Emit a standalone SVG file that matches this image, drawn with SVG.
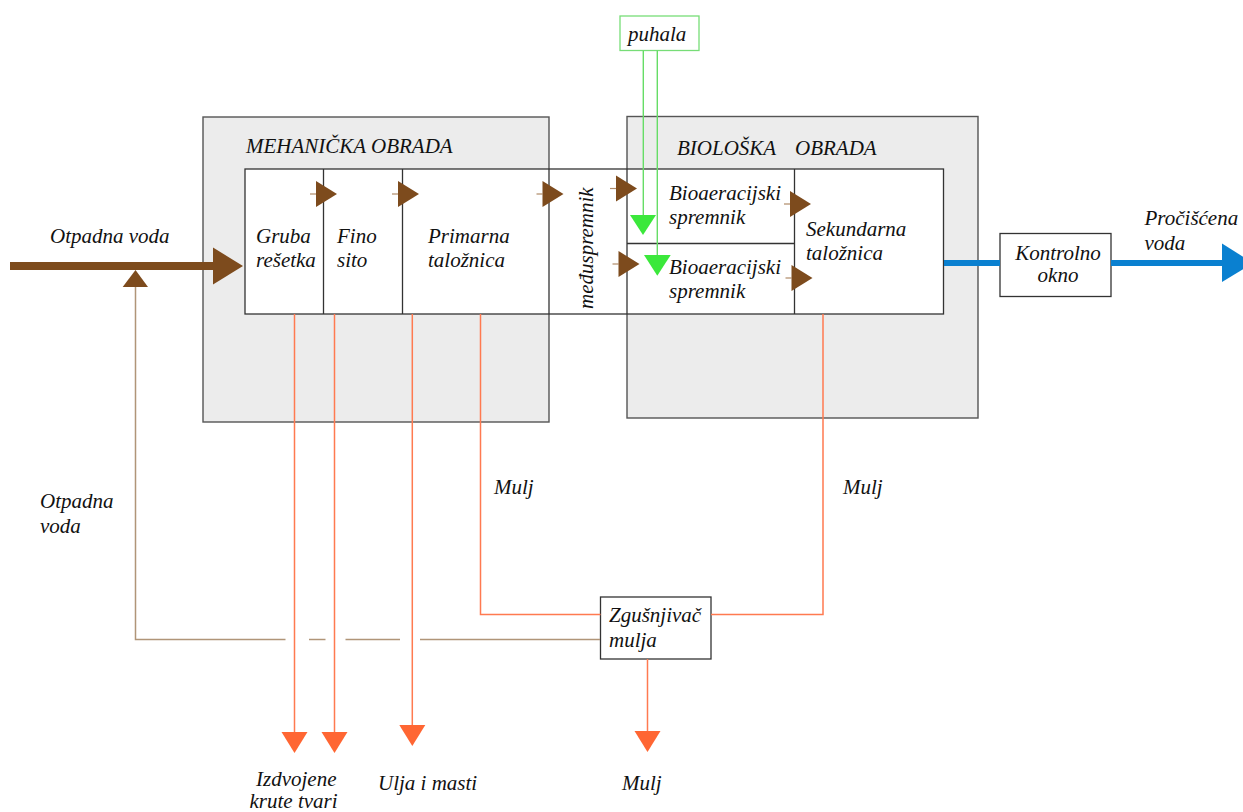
<svg xmlns="http://www.w3.org/2000/svg" width="1243" height="812" viewBox="0 0 1243 812">
<style>
text{font-family:"Liberation Serif","Times New Roman",serif;font-style:italic;font-size:21px;fill:#111}
.outer{fill:#ececec;stroke:#555;stroke-width:1.4}
.inner{fill:#fff;stroke:#333;stroke-width:1.3}
.div{stroke:#333;stroke-width:1.3;fill:none}
.box{fill:#fff;stroke:#333;stroke-width:1.3}
.or{stroke:#ff7a50;stroke-width:1.5;fill:none}
.orh{fill:#ff6633}
.tan{stroke:#b09578;stroke-width:1.5;fill:none}
.br{fill:#7d4b1d}
.gr{stroke:#66dd66;stroke-width:1.4;fill:none}
.grh{fill:#3be83b}
.bl{stroke:#0a80d0;stroke-width:6;fill:none}
</style>
<defs>
<g id="barrow">
<line x1="-27" y1="0" x2="-21" y2="0" stroke="#b08a68" stroke-width="1.2"/>
<polygon points="-21,-13 0,0 -21,13" fill="#7d4b1d"/>
</g>
<polygon id="oarrow" points="-13,0 13,0 0,21" fill="#ff6633"/>
</defs>

<g id="mehanicka">
<rect class="outer" x="203" y="117" width="346" height="305"/>
<text x="246" y="153">MEHANIČKA OBRADA</text>
</g>
<g id="bioloska">
<rect class="outer" x="627" y="116.5" width="351" height="301.5"/>
<text x="677" y="155">BIOLOŠKA</text>
<text x="795" y="155">OBRADA</text>
</g>
<g id="proces">
<rect class="inner" x="245" y="169" width="698.5" height="145"/>
<line class="div" x1="323.5" y1="169" x2="323.5" y2="314"/>
<line class="div" x1="402.5" y1="169" x2="402.5" y2="314"/>
<line class="div" x1="549" y1="169" x2="549" y2="314"/>
<line class="div" x1="627" y1="169" x2="627" y2="314"/>
<line class="div" x1="794.5" y1="169" x2="794.5" y2="314"/>
<line class="div" x1="627" y1="243.5" x2="794.5" y2="243.5"/>
</g>
<g id="gruba-resetka"><text x="256" y="243">Gruba</text><text x="256" y="267">rešetka</text></g>
<g id="fino-sito"><text x="337" y="243">Fino</text><text x="337" y="267">sito</text></g>
<g id="primarna-taloznica"><text x="428" y="243">Primarna</text><text x="428" y="267">taložnica</text></g>
<g id="meduspremnik"><text transform="translate(593 309) rotate(-90)">međuspremnik</text></g>
<g id="bioaeracijski-1"><text x="669" y="200">Bioaeracijski</text><text x="669" y="223.5">spremnik</text></g>
<g id="bioaeracijski-2"><text x="669" y="273.5">Bioaeracijski</text><text x="669" y="297.5">spremnik</text></g>
<g id="sekundarna-taloznica"><text x="806" y="236">Sekundarna</text><text x="806" y="260">taložnica</text></g>
<g id="puhala">
<rect x="620" y="16" width="79" height="34.5" fill="#fff" stroke="#77dd77" stroke-width="1.3"/>
<text x="628" y="41">puhala</text>
</g>
<g id="kontrolno-okno">
<rect class="box" x="1000" y="233.5" width="111" height="63"/>
<text x="1058" y="260" text-anchor="middle">Kontrolno</text>
<text x="1058" y="282" text-anchor="middle">okno</text>
</g>
<g id="zgusnjivac">
<rect class="box" x="600.5" y="597" width="110.5" height="62"/>
<text x="609" y="622">Zgušnjivač</text>
<text x="609" y="647">mulja</text>
</g>

<g id="connectors">
<!-- input -->
<line x1="10" y1="266" x2="214" y2="266" stroke="#7d4b1d" stroke-width="8"/>
<polygon class="br" points="213,247.5 243,266 213,284.5"/>
<!-- return wastewater -->
<polyline class="tan" points="600,639.5 420,639.5"/>
<line class="tan" x1="400" y1="639.5" x2="345.5" y2="639.5"/>
<line class="tan" x1="325.5" y1="639.5" x2="309" y2="639.5"/>
<polyline class="tan" points="285.5,639.5 135.5,639.5 135.5,287"/>
<polygon class="br" points="122.7,287 135.5,270 148,287"/>
<!-- internal flow arrows -->
<use href="#barrow" x="337" y="194"/>
<use href="#barrow" x="419" y="194"/>
<use href="#barrow" x="563.5" y="194"/>
<use href="#barrow" x="637" y="188.5"/>
<use href="#barrow" x="639.5" y="264"/>
<use href="#barrow" x="811" y="204"/>
<use href="#barrow" x="812.5" y="278"/>
<!-- air -->
<line class="gr" x1="643.3" y1="50.5" x2="643.3" y2="216"/>
<line class="gr" x1="657.3" y1="50.5" x2="657.3" y2="256"/>
<polygon class="grh" points="630,215 656,215 643,235"/>
<polygon class="grh" points="644,255 670.7,255 657.3,275.7"/>
<!-- solids -->
<line class="or" x1="294.5" y1="314" x2="294.5" y2="733"/>
<use href="#oarrow" x="294.5" y="732"/>
<line class="or" x1="334.5" y1="314" x2="334.5" y2="733"/>
<use href="#oarrow" x="334.5" y="732"/>
<line class="or" x1="412.3" y1="314" x2="412.3" y2="726"/>
<use href="#oarrow" x="412.3" y="725"/>
<!-- sludge -->
<polyline class="or" points="480.5,314 480.5,614.5 600.5,614.5"/>
<polyline class="or" points="823,314 823,614.5 711,614.5"/>
<line class="or" x1="647.5" y1="659" x2="647.5" y2="732"/>
<use href="#oarrow" x="647.5" y="731"/>
<!-- treated water -->
<line class="bl" x1="944" y1="263" x2="1000" y2="263"/>
<line class="bl" x1="1111" y1="263" x2="1224" y2="263"/>
<polygon fill="#0a80d0" points="1222,243.5 1253,263 1222,282"/>
</g>

<g id="labels">
<text x="50" y="242.5">Otpadna voda</text>
<text x="40" y="507.5">Otpadna</text>
<text x="40" y="532.5">voda</text>
<text x="494" y="494">Mulj</text>
<text x="843" y="494">Mulj</text>
<text x="1144.5" y="225">Pročišćena</text>
<text x="1144.5" y="250">voda</text>
<text x="256" y="786">Izdvojene</text>
<text x="249.5" y="808">krute tvari</text>
<text x="378" y="790">Ulja i masti</text>
<text x="622" y="790">Mulj</text>
</g>
</svg>
